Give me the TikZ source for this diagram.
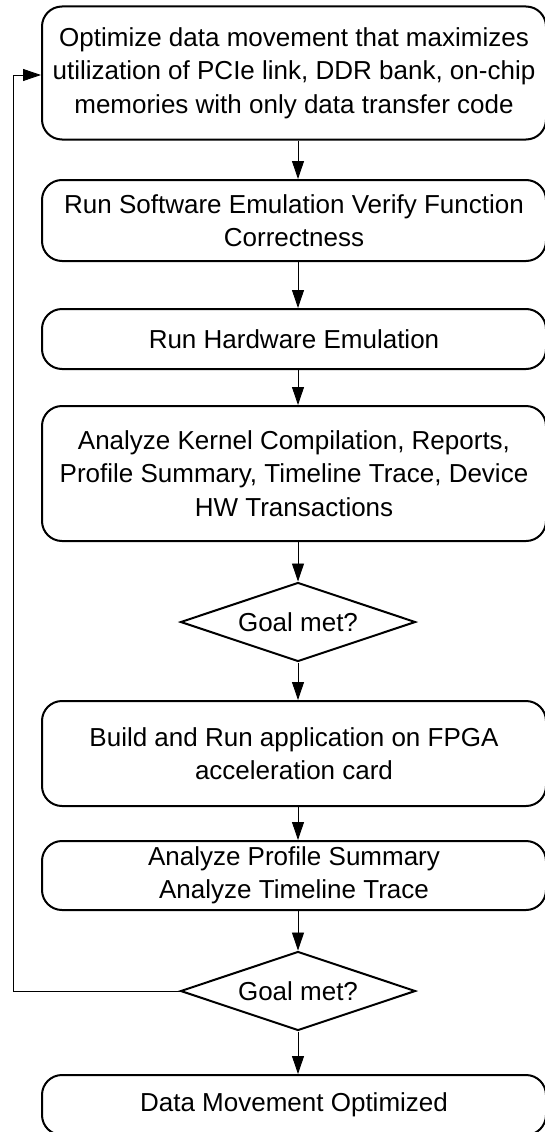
\documentclass[tikz,border=0pt]{standalone}
\usepackage{fontspec}
\setmainfont{Liberation Sans}
\usetikzlibrary{shapes.geometric,arrows.meta}
\tikzset{
  proc/.style={draw, line width=2pt, rounded corners=20pt, minimum width=504pt, align=center, inner sep=0pt},
  decis/.style={draw, diamond, line width=2pt, minimum width=235pt, minimum height=79pt, inner sep=0pt, label={center:#1}},
  arr/.style={-{Triangle[length=18pt,width=12pt]}, line width=0.9pt}
}
\begin{document}
\begin{tikzpicture}[x=1pt,y=-1pt,font=\fontsize{26}{33.5}\selectfont]
\useasboundingbox (0,0) rectangle (545,1132);
\node[proc, minimum height=133pt] (opt) at (294,73) {Optimize data movement that maximizes\\utilization of PCIe link, DDR bank, on-chip\\memories with only data transfer code};
\node[proc, minimum height=81pt] (swemu) at (294,220.5) {Run Software Emulation Verify Function\\Correctness};
\node[proc, minimum height=60pt] (hwemu) at (294,339) {Run Hardware Emulation};
\node[proc, minimum height=135pt] (anakern) at (294,473.5) {Analyze Kernel Compilation, Reports,\\Profile Summary, Timeline Trace, Device\\HW Transactions};
\node[decis={Goal met?}] (goal1) at (298,622) {};
\node[proc, minimum height=105pt] (build) at (294,753.5) {Build and Run application on FPGA\\acceleration card};
\node[proc, minimum height=69pt] (anaprof) at (294,875.5) {Analyze Profile Summary\\Analyze Timeline Trace};
\node[decis={Goal met?}] (goal2) at (298,991) {};
\node[proc, minimum height=60pt] (done) at (294,1105) {Data Movement Optimized};
\coordinate (loop) at (13,75);
% main flow
\draw[arr] (opt.south -| goal1) -- (swemu.north -| goal1);
\draw[arr] (swemu.south -| goal1) -- (hwemu.north -| goal1);
\draw[arr] (hwemu.south -| goal1) -- (anakern.north -| goal1);
\draw[arr] (anakern.south -| goal1) -- (goal1.north);
\draw[arr] (goal1.south) -- (build.north -| goal1);
\draw[arr] (build.south -| goal1) -- (anaprof.north -| goal1);
\draw[arr] (anaprof.south -| goal2) -- (goal2.north);
\draw[arr] (goal2.south) -- (done.north -| goal2);
% back to the start
\draw[arr] (goal2.west) -- (goal2.west -| loop) -- (loop) -- (opt.west |- loop);
\end{tikzpicture}
\end{document}
